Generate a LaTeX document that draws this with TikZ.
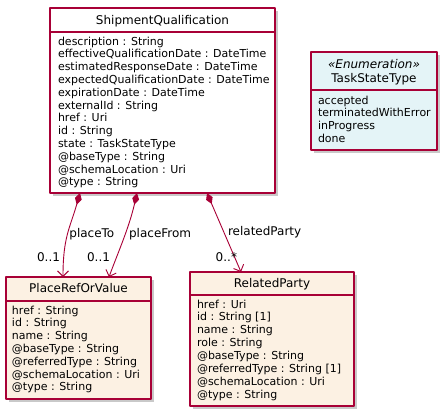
\documentclass[tikz,border=0pt]{standalone}
\usepackage{fontspec}
\setmainfont{DejaVu Sans}
\usetikzlibrary{arrows.meta,shadows}
\definecolor{umlred}{HTML}{A80036}
\definecolor{umlcream}{HTML}{FCF1E3}
\definecolor{umlblue}{HTML}{E4F4F7}
\begin{document}
\begin{tikzpicture}[line join=round, line cap=round, x=1pt, y=-1pt]
		\tikzset{every node/.style={inner sep=0pt, outer sep=0pt},
			classbox/.style={draw=umlred, line width=1.1pt, anchor=north west,
				drop shadow={shadow xshift=3pt, shadow yshift=-3pt, opacity=0.3, fill=black!70}},
			divider/.style={draw=umlred, line width=1.1pt, line cap=butt},
			classname/.style={anchor=base, font=\fontsize{12}{14}\selectfont},
			attr/.style={anchor=base west, font=\fontsize{11}{13}\selectfont},
			composition/.style={draw=umlred, line width=0.9pt,
				arrows={Diamond[length=12pt,width=7pt,fill=umlred]-Straight Barb[length=5.5pt,width=11pt,line width=0.9pt]}},
			rolename/.style={anchor=west, font=\fontsize{12}{14}\selectfont},
			mult/.style={anchor=east, font=\fontsize{12}{14}\selectfont}}
		\useasboundingbox (0,0) rectangle (447,415);
		%ShipmentQualification
		\node[classbox, fill=white, minimum width=225, minimum height=185] (shipment) at (50,8) {};
		\node[classname] (shipment-name) at ([yshift=-16]shipment.north) {ShipmentQualification};
		\draw[divider] ([yshift=-24]shipment.north west) -- ([yshift=-24]shipment.north east);
		\foreach \t [count=\i] in {description : String, effectiveQualificationDate : DateTime,
			estimatedResponseDate : DateTime, expectedQualificationDate : DateTime,
			expirationDate : DateTime, externalId : String, href : Uri, id : String,
			state : TaskStateType, @baseType : String, @schemaLocation : Uri, @type : String}
		\node[attr] (shipment-\i) at ([xshift=8, yshift={-37-12.8*(\i-1)}]shipment.north west) {\t};
		%TaskStateType
		\node[classbox, fill=umlblue, minimum width=126, minimum height=98] (taskstate) at (311,52) {};
		\node[classname, font=\fontsize{12}{14}\itshape] (taskstate-stereo) at ([yshift=-16]taskstate.north) {«Enumeration»};
		\node[classname] (taskstate-name) at ([yshift=-30]taskstate.north) {TaskStateType};
		\draw[divider] ([yshift=-38]taskstate.north west) -- ([yshift=-38]taskstate.north east);
		\foreach \t [count=\i] in {accepted, terminatedWithError, inProgress, done}
		\node[attr] (taskstate-\i) at ([xshift=7, yshift={-52-12.7*(\i-1)}]taskstate.north west) {\t};
		%PlaceRefOrValue
		\node[classbox, fill=umlcream, minimum width=145, minimum height=122] (place) at (6,277) {};
		\node[classname] (place-name) at ([yshift=-15.5]place.north) {PlaceRefOrValue};
		\draw[divider] ([yshift=-24]place.north west) -- ([yshift=-24]place.north east);
		\foreach \t [count=\i] in {href : String, id : String, name : String, @baseType : String,
			@referredType : String, @schemaLocation : Uri, @type : String}
		\node[attr] (place-\i) at ([xshift=6, yshift={-37-12.8*(\i-1)}]place.north west) {\t};
		%RelatedParty
		\node[classbox, fill=umlcream, minimum width=164, minimum height=134] (party) at (190,272) {};
		\node[classname] (party-name) at ([yshift=-15.5]party.north) {RelatedParty};
		\draw[divider] ([yshift=-23]party.north west) -- ([yshift=-23]party.north east);
		\foreach \t [count=\i] in {href : Uri, id : String [1], name : String, role : String,
			@baseType : String, @referredType : String [1], @schemaLocation : Uri, @type : String}
		\node[attr] (party-\i) at ([xshift=7, yshift={-36-12.9*(\i-1)}]party.north west) {\t};
		%Associations
		\draw[composition] ([xshift=30]shipment.south west) .. controls +(-10,35) and +(0,-40) .. ([xshift=57]place.north west)
			node[rolename, pos=0.52, xshift=2] (placeto-role) {placeTo}
			node[mult, pos=1, xshift=-3, yshift=20] (placeto-mult) {0..1};
		\draw[composition] ([xshift=87]shipment.south west) .. controls +(-8,35) and +(8,-22) .. ([xshift=103]place.north west)
			node[rolename, pos=0.43, xshift=4] (placefrom-role) {placeFrom}
			node[mult, pos=1, xshift=1, yshift=20] (placefrom-mult) {0..1};
		\draw[composition] ([xshift=157]shipment.south west) -- ([xshift=51]party.north west)
			node[rolename, pos=0.5, xshift=4] (party-role) {relatedParty}
			node[mult, pos=1, xshift=-4, yshift=15] (party-mult) {0..*};
\end{tikzpicture}
\end{document}
